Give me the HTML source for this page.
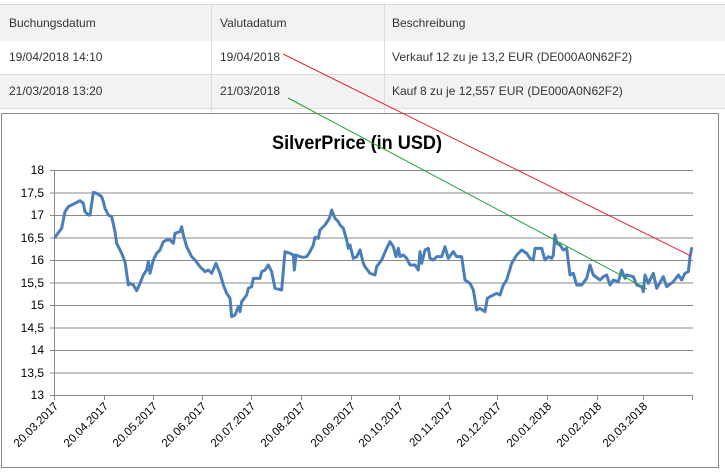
<!DOCTYPE html>
<html><head><meta charset="utf-8"><style>
body{margin:0;width:725px;height:472px;overflow:hidden;background:#fff;font-family:"Liberation Sans",Arial,sans-serif;position:relative}
.t{position:absolute;left:0;width:725px;font-size:12px;color:#333}
.c{position:absolute;top:0;height:100%;line-height:inherit}
</style></head><body>
<div class="t" style="top:4px;height:36px;line-height:36px;background:#f2f2f2;border-top:1px solid #d8d8d8;border-bottom:1px solid #dcdcdc">
<span class="c" style="left:9px">Buchungsdatum</span><span class="c" style="left:220px">Valutadatum</span><span class="c" style="left:392px">Beschreibung</span></div>
<div class="t" style="top:41px;height:33px;line-height:33px;background:#fff;border-bottom:1px solid #dcdcdc">
<span class="c" style="left:9px">19/04/2018 14:10</span><span class="c" style="left:220px">19/04/2018</span><span class="c" style="left:392px">Verkauf 12 zu je 13,2 EUR (DE000A0N62F2)</span></div>
<div class="t" style="top:75px;height:33px;line-height:33px;background:#f2f2f2;border-bottom:1px solid #dcdcdc">
<span class="c" style="left:9px">21/03/2018 13:20</span><span class="c" style="left:220px">21/03/2018</span><span class="c" style="left:392px">Kauf 8 zu je 12,557 EUR (DE000A0N62F2)</span></div>
<div style="position:absolute;left:211px;top:4px;width:1px;height:110px;background:#dcdcdc"></div>
<div style="position:absolute;left:384px;top:4px;width:1px;height:110px;background:#dcdcdc"></div>
<div style="position:absolute;left:1px;top:113px;width:716px;height:353px;border:1px solid #888;background:#fff"></div>
<svg style="position:absolute;left:0;top:0" width="725" height="472" font-family="Liberation Sans, Arial, sans-serif">
<text x="357" y="149" text-anchor="middle" font-size="19" font-weight="bold" fill="#000" textLength="170" lengthAdjust="spacingAndGlyphs">SilverPrice (in USD)</text>
<g stroke="#888" stroke-width="1">
<line x1="50" y1="170.5" x2="693" y2="170.5"/><line x1="50" y1="193" x2="693" y2="193"/><line x1="50" y1="215.5" x2="693" y2="215.5"/><line x1="50" y1="238" x2="693" y2="238"/><line x1="50" y1="260.5" x2="693" y2="260.5"/><line x1="50" y1="283" x2="693" y2="283"/><line x1="50" y1="305.5" x2="693" y2="305.5"/><line x1="50" y1="328" x2="693" y2="328"/><line x1="50" y1="350.5" x2="693" y2="350.5"/><line x1="50" y1="373" x2="693" y2="373"/><line x1="50" y1="395.5" x2="693" y2="395.5"/>
<line x1="54.5" y1="170" x2="54.5" y2="395"/>
<line x1="54.5" y1="395" x2="54.5" y2="400"/><line x1="104.5" y1="395" x2="104.5" y2="400"/><line x1="153.5" y1="395" x2="153.5" y2="400"/><line x1="202.5" y1="395" x2="202.5" y2="400"/><line x1="251.5" y1="395" x2="251.5" y2="400"/><line x1="301.5" y1="395" x2="301.5" y2="400"/><line x1="351.5" y1="395" x2="351.5" y2="400"/><line x1="399.5" y1="395" x2="399.5" y2="400"/><line x1="449.5" y1="395" x2="449.5" y2="400"/><line x1="497.5" y1="395" x2="497.5" y2="400"/><line x1="547.5" y1="395" x2="547.5" y2="400"/><line x1="597.5" y1="395" x2="597.5" y2="400"/><line x1="643.5" y1="395" x2="643.5" y2="400"/><line x1="692.5" y1="395" x2="692.5" y2="400"/>
</g>
<g font-size="12" fill="#000" text-anchor="end">
<text x="44" y="174">18</text><text x="44" y="197">17,5</text><text x="44" y="219">17</text><text x="44" y="242">16,5</text><text x="44" y="264">16</text><text x="44" y="287">15,5</text><text x="44" y="309">15</text><text x="44" y="332">14,5</text><text x="44" y="354">14</text><text x="44" y="377">13,5</text><text x="44" y="399">13</text>
</g>
<g font-size="11.5" fill="#000" text-anchor="end">
<text transform="translate(59,407) rotate(-45)">20.03.2017</text>
<text transform="translate(109,407) rotate(-45)">20.04.2017</text>
<text transform="translate(158,407) rotate(-45)">20.05.2017</text>
<text transform="translate(207,407) rotate(-45)">20.06.2017</text>
<text transform="translate(256,407) rotate(-45)">20.07.2017</text>
<text transform="translate(306,407) rotate(-45)">20.08.2017</text>
<text transform="translate(356,407) rotate(-45)">20.09.2017</text>
<text transform="translate(404,407) rotate(-45)">20.10.2017</text>
<text transform="translate(454,407) rotate(-45)">20.11.2017</text>
<text transform="translate(502,407) rotate(-45)">20.12.2017</text>
<text transform="translate(552,407) rotate(-45)">20.01.2018</text>
<text transform="translate(602,407) rotate(-45)">20.02.2018</text>
<text transform="translate(648,407) rotate(-45)">20.03.2018</text>
</g>
<g fill="none" stroke="#4a7ebb" stroke-width="3" stroke-linejoin="round" stroke-linecap="round">
<polyline vector-effect="non-scaling-stroke" transform="translate(0,160) scale(0.33333)" points="165,232 175,218 185,205 195,155 205,140 215,135 225,130 240,122 250,130 255,155 265,165 270,165 280,97 290,100 305,110 310,125 315,145 325,165 335,170 345,215 350,250 365,280 375,305 385,375 390,370 400,375 410,392 420,370 430,345 440,330 445,305 450,340 460,300 470,280 480,270 490,245 500,240 510,240 520,250 525,220 540,215 545,200 550,225 560,260 575,290 585,300 600,320 615,335 625,330 635,340 648,310 660,340 670,375 680,400 690,415 695,470 705,465 715,440 720,455 725,425 740,405 745,385 755,380 760,355 770,355 780,355 785,335 795,330 805,315 815,335 825,385 845,390 855,275 870,280 880,285 883,330 888,285 900,290 910,292 920,290 930,275 940,255 945,232 955,235 960,210 975,195 985,180 990,170 995,150 1005,175 1015,185 1020,195 1030,205 1040,240 1045,265 1050,255 1060,295 1070,290 1080,270"/>
<polyline vector-effect="non-scaling-stroke" transform="translate(360,160) scale(0.33333)" points="0,270 10,310 15,320 30,340 45,345 50,320 65,300 80,265 90,245 100,260 108,290 115,265 120,290 130,285 140,295 150,315 165,315 175,330 180,275 185,310 195,270 205,265 210,295 220,300 230,290 245,290 255,260 265,295 280,275 290,290 305,290 315,360 330,370 340,390 350,450 360,445 375,455 382,415 390,410 410,400 420,405 430,375 440,360 455,310 470,285 485,270 500,280 510,295 520,300 525,265 545,265 555,300 565,290 575,295 580,285 585,225 590,250 600,255 610,270 620,265 630,345 640,340 650,375 665,375 680,355 690,315 700,345 720,360 730,350 740,345 750,375 760,360 775,365 785,330 795,355 800,345 820,350 830,375 845,380 850,395 855,345 865,370 880,340 890,385 910,350 920,380 940,365 955,345 965,360 975,340 985,335 990,290 995,265"/>
</g>
<line x1="283" y1="54" x2="691" y2="256" stroke="#e8262a" stroke-width="1"/>
<line x1="288" y1="98" x2="647" y2="289" stroke="#1fa336" stroke-width="1"/>
</svg>
</body></html>
